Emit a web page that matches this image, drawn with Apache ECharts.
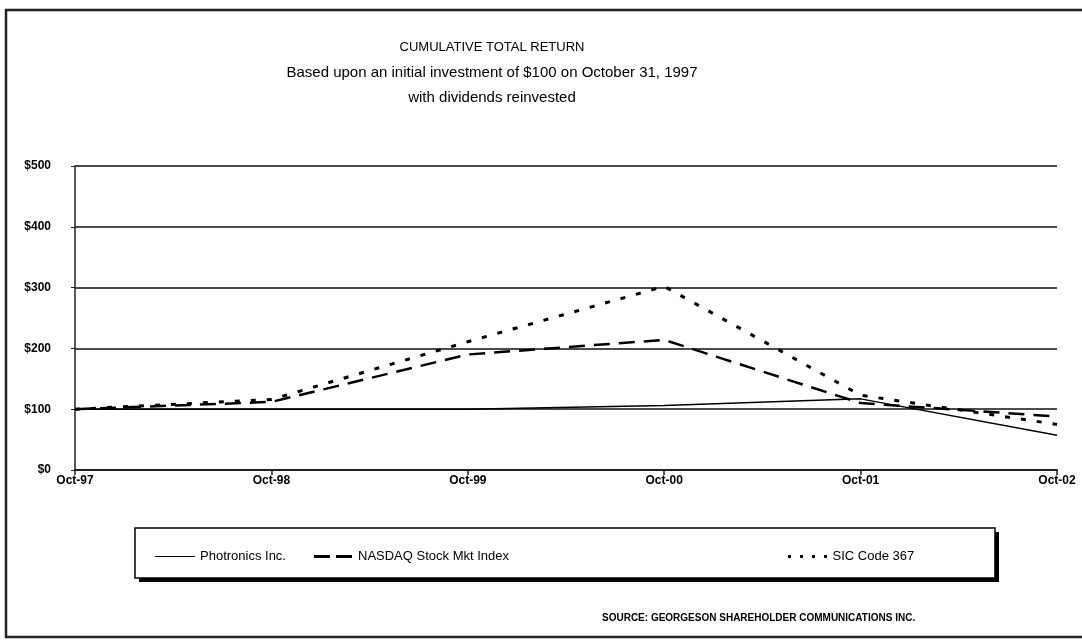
<!DOCTYPE html>
<html>
<head>
<meta charset="utf-8">
<script src="https://cdn.jsdelivr.net/npm/echarts@6/dist/echarts.min.js"></script>
<style>
  html, body { margin: 0; padding: 0; background: #fff; }
  #main { width: 1082px; height: 641px; }
</style>
</head>
<body>
<div id="main"></div>
<script>
// tick labels / categories
const years = ['Oct-97', 'Oct-98', 'Oct-99', 'Oct-00', 'Oct-01', 'Oct-02'];
// cumulative values
const photronics = [100, 100, 100, 106, 117, 57];
const nasdaq = [100, 112, 190, 214, 110, 88];
const sic367 = [100, 116, 211, 302, 123, 75];
const seriesNames = ['Photronics Inc.', 'NASDAQ Stock Mkt Index', 'SIC Code 367'];

const font = "'Liberation Sans', Arial, sans-serif";

// legend sample glyphs (solid, dashed, dotted), 40 x 3 box
const legendIcons = [
  'path://M0,1H40V2H0Z',
  'path://M0,0H16V3H0ZM22,0H38V3H22Z',
  'path://M0,0H3V3H0ZM12,0H15V3H12ZM24,0H27V3H24ZM36,0H39V3H36Z'
];

let chart = echarts.init(document.getElementById('main'), null, { renderer: 'canvas' });

function legendAt(i, left) {
  return {
    data: [{ name: seriesNames[i], icon: legendIcons[i] }],
    left: left,
    top: 545,
    itemWidth: 40,
    itemHeight: 3,
    itemGap: 4,
    textStyle: { fontFamily: font, fontSize: 13, color: '#000' },
    selectedMode: false
  };
}

chart.setOption({
  animation: false,
  backgroundColor: '#fff',
  title: [
    {
      left: 487,
      textAlign: 'center',
      top: 30,
      text: '{a|CUMULATIVE TOTAL RETURN}\n{b|Based upon an initial investment of $100 on October 31, 1997}\n{b|with dividends reinvested}',
      textStyle: {
        fontWeight: 'normal',
        rich: {
          a: { fontFamily: font, fontSize: 13, fontWeight: 'normal', color: '#000', lineHeight: 25 },
          b: { fontFamily: font, fontSize: 15, fontWeight: 'normal', color: '#000', lineHeight: 25 }
        }
      }
    },
    {
      // source note
      left: 597,
      top: 608,
      text: 'SOURCE: GEORGESON SHAREHOLDER COMMUNICATIONS INC.',
      textStyle: { fontFamily: font, fontSize: 10, fontWeight: 'bold', color: '#000' }
    }
  ],
  legend: [
    legendAt(0, 150),
    legendAt(1, 309),
    legendAt(2, 783)
  ],
  grid: { left: 75, right: 25, top: 166, bottom: 171 },
  xAxis: {
    type: 'category',
    data: years,
    boundaryGap: false,
    axisLine: { lineStyle: { color: '#222', width: 2 } },
    axisTick: { show: true, length: 5, lineStyle: { color: '#222', width: 1.5 } },
    axisLabel: { fontFamily: font, fontSize: 12, fontWeight: 'bold', color: '#000', margin: 5 }
  },
  yAxis: {
    type: 'value',
    min: 0,
    max: 500,
    interval: 100,
    axisLine: { show: true, lineStyle: { color: '#222', width: 1.5 } },
    axisTick: { show: true, length: 4, lineStyle: { color: '#222' } },
    splitLine: { lineStyle: { color: '#111', width: 1.6 } },
    axisLabel: {
      fontFamily: font, fontSize: 12, fontWeight: 'bold', color: '#000', margin: 24,
      formatter: v => '$' + v
    }
  },
  series: [
    {
      name: seriesNames[0], type: 'line', data: photronics, symbol: 'none',
      lineStyle: { color: '#000', width: 1.5, type: 'solid' }, itemStyle: { color: '#000' }
    },
    {
      name: seriesNames[1], type: 'line', data: nasdaq, symbol: 'none',
      lineStyle: { color: '#000', width: 2.5, type: [16, 9] }, itemStyle: { color: '#000' }
    },
    {
      name: seriesNames[2], type: 'line', data: sic367, symbol: 'none',
      lineStyle: { color: '#000', width: 3, type: [5, 11] }, itemStyle: { color: '#000' }
    }
  ],
  graphic: [
    // outer frame
    {
      type: 'polyline', silent: true, z: -1,
      shape: { points: [[1082, 10], [6, 10], [6, 637], [1082, 637]] },
      style: { stroke: '#222', lineWidth: 2.5, fill: null }
    },
    // legend box shadow + box
    {
      type: 'rect', silent: true, z: -1,
      shape: { x: 139, y: 532, width: 860, height: 50 },
      style: { fill: '#000' }
    },
    {
      type: 'rect', silent: true, z: -1,
      shape: { x: 135, y: 528, width: 860, height: 50 },
      style: { fill: '#fff', stroke: '#000', lineWidth: 1.5 }
    }
  ]
});
</script>
</body>
</html>
